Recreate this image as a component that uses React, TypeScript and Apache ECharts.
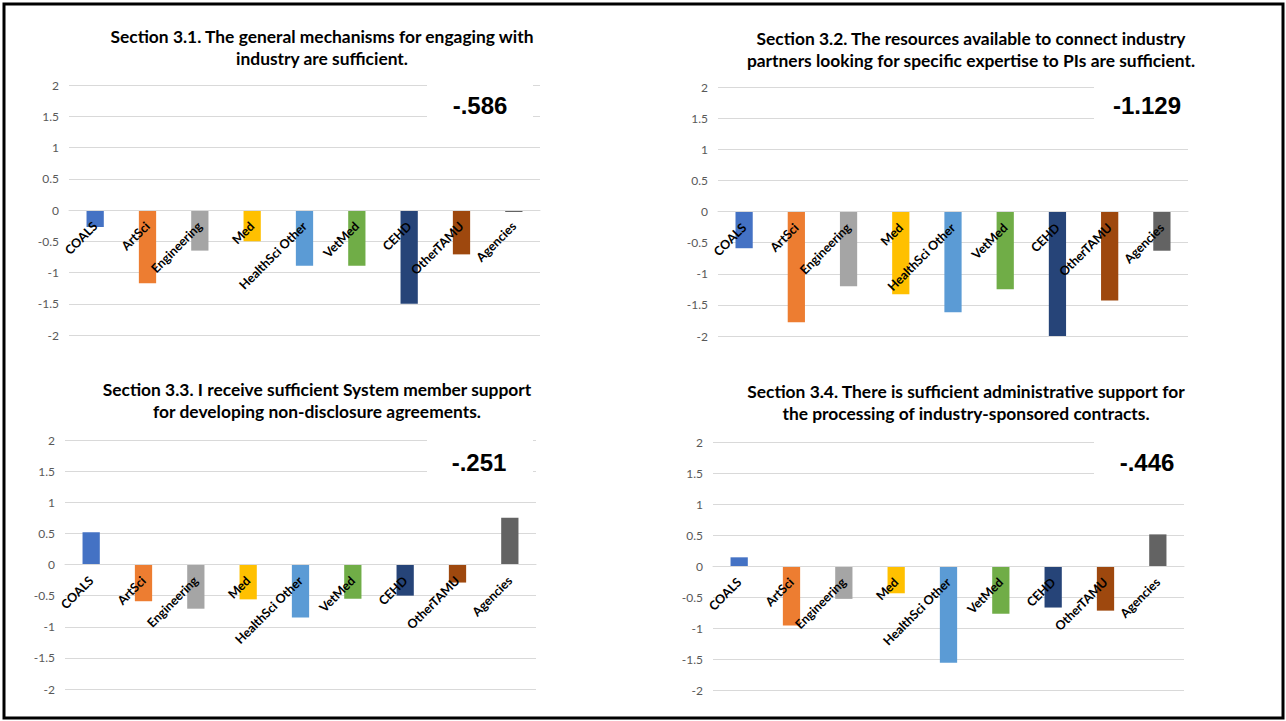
import React, { useEffect, useRef } from "react";
import * as echarts from "echarts";

// Colleges / units shown on every panel
const categories = [
  "COALS",
  "ArtSci",
  "Engineering",
  "Med",
  "HealthSci Other",
  "VetMed",
  "CEHD",
  "OtherTAMU",
  "Agencies",
];

// One fill colour per unit
const unitColors = [
  "#4472C4",
  "#ED7D31",
  "#A5A5A5",
  "#FFC000",
  "#5B9BD5",
  "#70AD47",
  "#264478",
  "#9E480E",
  "#636363",
];

// Mean scores per unit, section by section
const section31 = [-0.27, -1.17, -0.65, -0.5, -0.89, -0.89, -1.5, -0.71, -0.03];
const section32 = [-0.59, -1.78, -1.2, -1.33, -1.62, -1.25, -2.0, -1.43, -0.63];
const section33 = [0.52, -0.59, -0.71, -0.56, -0.85, -0.55, -0.5, -0.29, 0.75];
const section34 = [0.14, -0.96, -0.53, -0.44, -1.56, -0.77, -0.67, -0.72, 0.51];

// Overall averages printed in each panel
const overall = ["-.586", "-1.129", "-.251", "-.446"];

// Two-line panel headings
const titles = [
  ["Section 3.1. The general mechanisms for engaging with", "industry are sufficient."],
  ["Section 3.2. The resources available to connect industry", "partners looking for specific expertise to PIs are sufficient."],
  ["Section 3.3. I receive sufficient System member support", "for developing non-disclosure agreements."],
  ["Section 3.4. There is sufficient administrative support for", "the processing of industry-sponsored contracts."],
];

const seriesValues = [section31, section32, section33, section34];

// Layout of each panel: plot area, heading centre, average label and its backing box
const panels = [
  { left: 69, top: 85, width: 471, height: 250, titleX: 322, titleY: 36, valX: 480, valY: 105, box: [427, 76, 106, 48] },
  { left: 718, top: 87, width: 470, height: 249, titleX: 971, titleY: 38, valX: 1147, valY: 105, box: [1094, 78, 100, 48] },
  { left: 65, top: 440, width: 471, height: 249, titleX: 317, titleY: 389, valX: 479, valY: 462, box: [427, 431, 106, 48] },
  { left: 713, top: 442, width: 471, height: 248, titleX: 966, titleY: 391, valX: 1147, valY: 462, box: [1094, 433, 100, 48] },
];

const TITLE_FONT = "bold 17.4px Lato, 'Open Sans', sans-serif";
const LABEL_FONT_FAMILY = "Lato, 'Open Sans', sans-serif";

export default function App() {
  const ref = useRef<HTMLDivElement>(null);

  useEffect(() => {
    if (!ref.current) return;
    const chart = echarts.init(ref.current, undefined, { renderer: "svg" });

    const grid = panels.map((p) => ({
      left: p.left,
      top: p.top,
      width: p.width,
      height: p.height,
      containLabel: false,
    }));

    // The category axis sits on the zero line, halfway up the symmetric -2..2 range
    const xAxis = panels.map((p, i) => ({
      type: "category",
      gridIndex: i,
      data: categories,
      position: "bottom",
      offset: -p.height / 2,
      z: 5,
      axisLine: { show: true, onZero: false, lineStyle: { color: "#d9d9d9", width: 1 } },
      axisTick: { show: false },
      axisLabel: {
        rotate: 45,
        margin: 14,
        interval: 0,
        color: "#000",
        fontWeight: "bold",
        fontSize: 12.5,
        fontFamily: LABEL_FONT_FAMILY,
      },
      splitLine: { show: false },
    }));

    const yAxis = panels.map((_, i) => ({
      type: "value",
      gridIndex: i,
      min: -2,
      max: 2,
      interval: 0.5,
      axisLine: { show: false },
      axisTick: { show: false },
      axisLabel: {
        color: "#595959",
        fontSize: 12,
        margin: 10,
        fontFamily: LABEL_FONT_FAMILY,
      },
      splitLine: { show: true, lineStyle: { color: "#d9d9d9", width: 1 } },
    }));

    const series = seriesValues.map((vals, i) => ({
      type: "bar",
      xAxisIndex: i,
      yAxisIndex: i,
      barWidth: "33%",
      z: 2,
      data: vals.map((v, k) => ({ value: v, itemStyle: { color: unitColors[k] } })),
    }));

    const graphic: any[] = [];
    panels.forEach((p, i) => {
      graphic.push({
        type: "rect",
        z: 100,
        shape: { x: p.box[0], y: p.box[1], width: p.box[2], height: p.box[3] },
        style: { fill: "#fff" },
      });
      graphic.push({
        type: "text",
        z: 101,
        x: p.valX,
        y: p.valY,
        style: {
          text: overall[i],
          align: "center",
          verticalAlign: "middle",
          font: "bold 24px 'Liberation Sans', Arial, sans-serif",
          fill: "#000",
        },
      });
      titles[i].forEach((line, j) => {
        graphic.push({
          type: "text",
          z: 101,
          x: p.titleX,
          y: p.titleY + j * 22,
          style: {
            text: line,
            align: "center",
            verticalAlign: "middle",
            font: TITLE_FONT,
            fill: "#000",
          },
        });
      });
    });

    // Outer frame around all four panels
    graphic.push({
      type: "rect",
      z: 102,
      shape: { x: 4, y: 4, width: 1279, height: 714 },
      style: { fill: "none", stroke: "#000", lineWidth: 3 },
    });

    chart.setOption({
      animation: false,
      backgroundColor: "#fff",
      grid,
      xAxis,
      yAxis,
      series,
      graphic,
    });

    return () => chart.dispose();
  }, []);

  return (
    <div
      ref={ref}
      style={{ position: "absolute", left: 0, top: 0, width: 1286, height: 721 }}
    />
  );
}
